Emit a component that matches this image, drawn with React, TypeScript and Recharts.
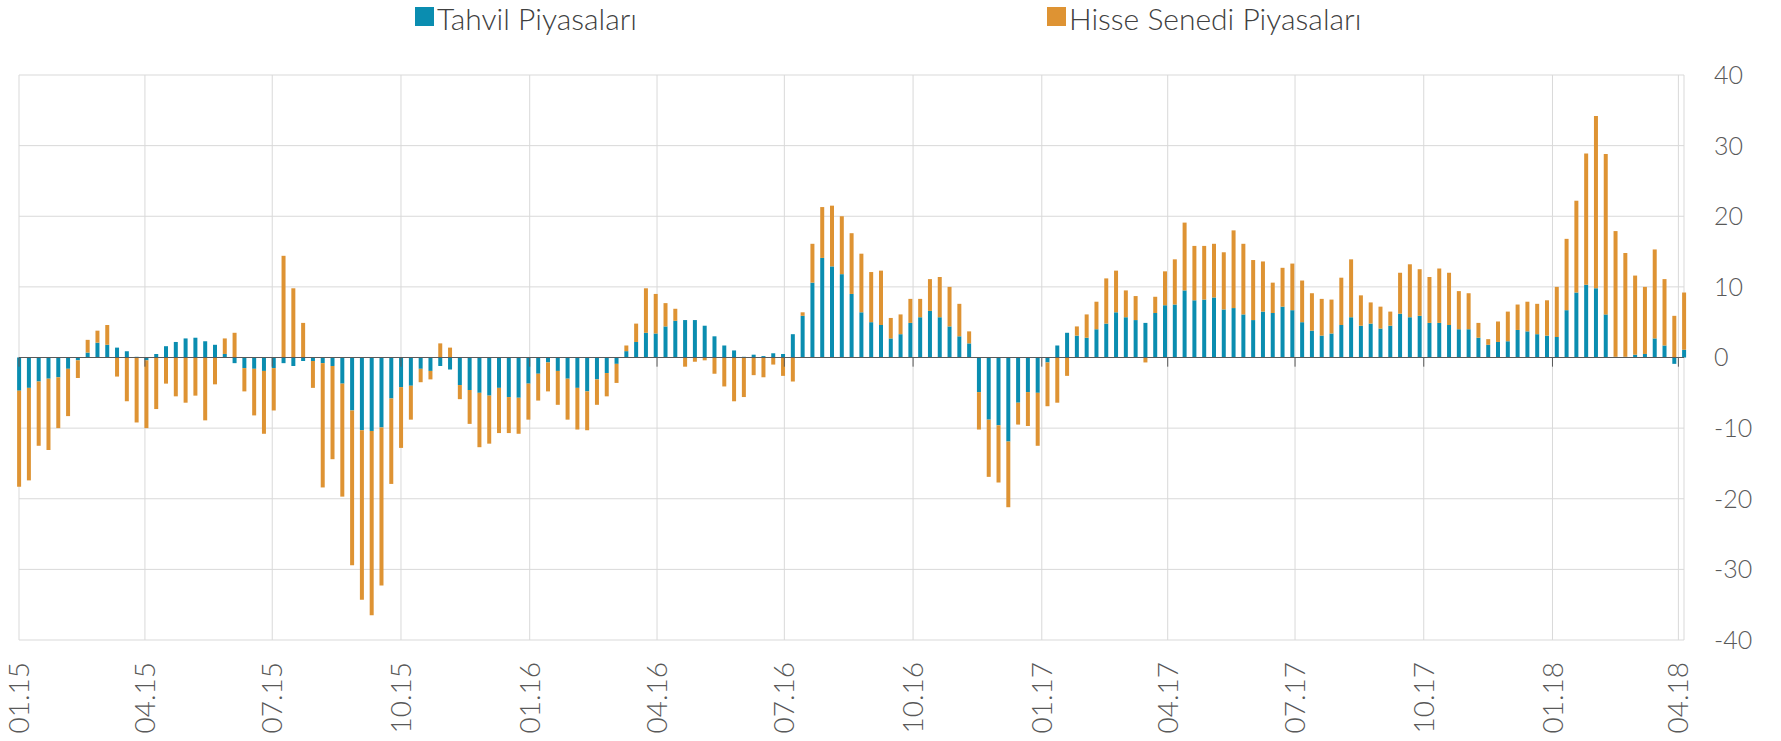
import React from 'react';
import { BarChart, Bar, XAxis, YAxis, CartesianGrid, ReferenceLine } from 'recharts';

// weekly flows, first week = 01.01.2015
const START = Date.UTC(2015, 0, 1);
const DAY_MS = 86400000;

const tahvil = [
  -4.7, -4.3, -3.4, -3.0, -2.8, -1.6, -0.4, 0.7, 2.1, 1.8,
  1.4, 0.9, 0.1, -0.4, 0.5, 1.6, 2.2, 2.7, 2.8, 2.3,
  1.8, 0.5, -0.8, -1.5, -1.6, -1.9, -1.5, -0.8, -1.2, -0.5,
  -0.5, -0.8, -1.2, -3.7, -7.5, -10.3, -10.4, -9.9, -5.8, -4.2,
  -4.0, -1.6, -1.9, -1.2, -1.7, -3.9, -4.6, -5.0, -5.4, -4.3,
  -5.6, -5.7, -3.7, -2.3, -0.7, -1.9, -3.0, -4.3, -4.8, -3.1,
  -2.2, -0.9, 0.9, 2.2, 3.5, 3.4, 4.4, 5.2, 5.3, 5.3,
  4.5, 3.0, 1.7, 1.0, 0.1, 0.4, 0.2, 0.6, 0.5, 3.3,
  5.9, 10.6, 14.1, 12.9, 11.8, 9.0, 6.4, 5.0, 4.6, 2.7,
  3.3, 4.9, 5.7, 6.6, 5.7, 4.4, 3.0, 2.0, -4.9, -8.8,
  -9.6, -11.9, -6.4, -4.9, -5.0, -0.7, 1.7, 3.5, 3.1, 2.8,
  4.0, 4.8, 6.4, 5.7, 5.3, 4.9, 6.3, 7.4, 7.5, 9.5,
  8.1, 8.2, 8.5, 6.8, 7.0, 6.1, 5.3, 6.5, 6.3, 7.2,
  6.7, 5.0, 3.8, 3.1, 3.4, 4.6, 5.7, 4.5, 4.8, 4.1,
  4.5, 6.2, 5.7, 5.9, 4.9, 4.9, 4.6, 4.0, 4.0, 2.8,
  1.8, 2.2, 2.3, 3.9, 3.7, 3.3, 3.1, 2.9, 6.7, 9.2,
  10.3, 9.8, 6.1, 0.1, 0.1, 0.4, 0.5, 2.7, 1.7, -0.9,
  1.1,
];

const hisse = [
  -13.6, -13.1, -9.1, -10.1, -7.2, -6.7, -2.5, 1.8, 1.7, 2.8,
  -2.7, -6.2, -9.2, -9.6, -7.3, -3.7, -5.5, -6.4, -5.4, -8.9,
  -3.8, 2.2, 3.5, -3.3, -6.6, -8.9, -6.0, 14.4, 9.8, 4.9,
  -3.8, -17.6, -13.2, -16.0, -21.9, -24.0, -26.1, -22.4, -12.1, -8.6,
  -4.8, -1.9, -1.2, 2.0, 1.4, -2.0, -4.8, -7.7, -6.8, -6.4,
  -5.1, -5.1, -5.1, -3.8, -4.1, -4.8, -5.8, -5.9, -5.5, -3.6,
  -3.3, -2.7, 0.8, 2.6, 6.3, 5.6, 3.3, 1.7, -1.3, -0.6,
  -0.4, -2.3, -4.1, -6.2, -5.6, -2.5, -2.8, -1.0, -2.6, -3.4,
  0.5, 5.5, 7.2, 8.6, 8.2, 8.6, 8.3, 7.1, 7.7, 2.9,
  2.8, 3.4, 2.6, 4.5, 5.7, 5.6, 4.6, 1.7, -5.3, -8.1,
  -8.1, -9.3, -3.1, -4.8, -7.5, -6.2, -6.4, -2.6, 1.3, 3.3,
  3.9, 6.4, 5.9, 3.8, 3.4, -0.7, 2.3, 4.8, 6.4, 9.6,
  7.7, 7.6, 7.6, 8.1, 11.0, 10.0, 8.5, 7.1, 4.3, 5.5,
  6.6, 5.9, 5.3, 5.2, 4.8, 6.7, 8.2, 4.3, 3.0, 3.1,
  2.0, 5.8, 7.5, 6.6, 6.5, 7.7, 7.4, 5.4, 5.1, 2.1,
  0.8, 2.9, 4.2, 3.6, 4.2, 4.3, 5.0, 7.1, 10.1, 13.0,
  18.6, 24.4, 22.7, 17.8, 14.7, 11.2, 9.5, 12.6, 9.4, 5.9,
  8.1,
];

const quarterLabels = [
  '01.15', '04.15', '07.15', '10.15',
  '01.16', '04.16', '07.16', '10.16',
  '01.17', '04.17', '07.17', '10.17',
  '01.18', '04.18',
];

const yTicks = [-40, -30, -20, -10, 0, 10, 20, 30, 40];

const BLUE = '#0A8DB0';
const ORANGE = '#DE9333';
const AXIS_TEXT = '#595959';
const FONT = 'Lato, "Open Sans", sans-serif';

// day offset (from START) of each "MM.YY" label
const quarterDays = quarterLabels.map((l) => {
  const [mm, yy] = l.split('.').map(Number);
  return Math.round((Date.UTC(2000 + yy, mm - 1, 1) - START) / DAY_MS);
});

const data = tahvil.map((t, i) => ({ day: i * 7, tahvil: t, hisse: hisse[i] }));

const XTick = ({ x, y, payload }: any) => {
  const idx = quarterDays.indexOf(payload.value);
  return (
    <g transform={`translate(${x},${y})`}>
      <text
        transform="rotate(-90)"
        x={-22}
        dy="0.36em"
        textAnchor="end"
        fill={AXIS_TEXT}
        fontSize={28}
        fontFamily={FONT}
        fontWeight={300}
      >
        {quarterLabels[idx]}
      </text>
    </g>
  );
};

const LegendItem = ({ left, color, label }: { left: number; color: string; label: string }) => (
  <>
    <div style={{ position: 'absolute', left, top: 7, width: 19, height: 19, background: color }} />
    <div
      style={{
        position: 'absolute',
        left: left + 22,
        top: 0,
        fontSize: 30,
        lineHeight: '36px',
        fontFamily: FONT,
        fontWeight: 300,
        color: '#404040',
        whiteSpace: 'nowrap',
      }}
    >
      {label}
    </div>
  </>
);

export default function App() {
  return (
    <div style={{ position: 'absolute', left: 0, top: 0, width: 1781, height: 741, background: '#fff' }}>
      <BarChart
        width={1781}
        height={741}
        data={data}
        margin={{ top: 75, right: 0, bottom: 0, left: 19 }}
        stackOffset="sign"
      >
        <CartesianGrid stroke="#d9d9d9" strokeWidth={1} />
        <XAxis
          dataKey="day"
          type="number"
          domain={[0, 'dataMax']}
          ticks={quarterDays}
          interval={0}
          height={101}
          axisLine={false}
          tickLine={false}
          tickSize={0}
          tickMargin={0}
          tick={(p: any) => <XTick {...p} />}
        />
        <YAxis
          orientation="right"
          domain={[-40, 40]}
          ticks={yTicks}
          interval={0}
          width={97}
          axisLine={false}
          tickLine={false}
          tickSize={0}
          tickMargin={30}
          tick={{ fill: AXIS_TEXT, fontSize: 25, fontFamily: FONT, fontWeight: 300 }}
        />
        <Bar dataKey="tahvil" name="Tahvil Piyasaları" stackId="a" fill={BLUE} barSize={4} isAnimationActive={false} />
        <Bar dataKey="hisse" name="Hisse Senedi Piyasaları" stackId="a" fill={ORANGE} barSize={4} isAnimationActive={false} />
        <ReferenceLine y={0} stroke={AXIS_TEXT} strokeWidth={1} />
        {quarterDays.map((d) => (
          <ReferenceLine
            key={d}
            segment={[{ x: d, y: 0 }, { x: d, y: -1.3 }]}
            stroke={AXIS_TEXT}
            strokeWidth={1}
          />
        ))}
      </BarChart>
      <LegendItem left={415} color={BLUE} label="Tahvil Piyasaları" />
      <LegendItem left={1047} color={ORANGE} label="Hisse Senedi Piyasaları" />
    </div>
  );
}
